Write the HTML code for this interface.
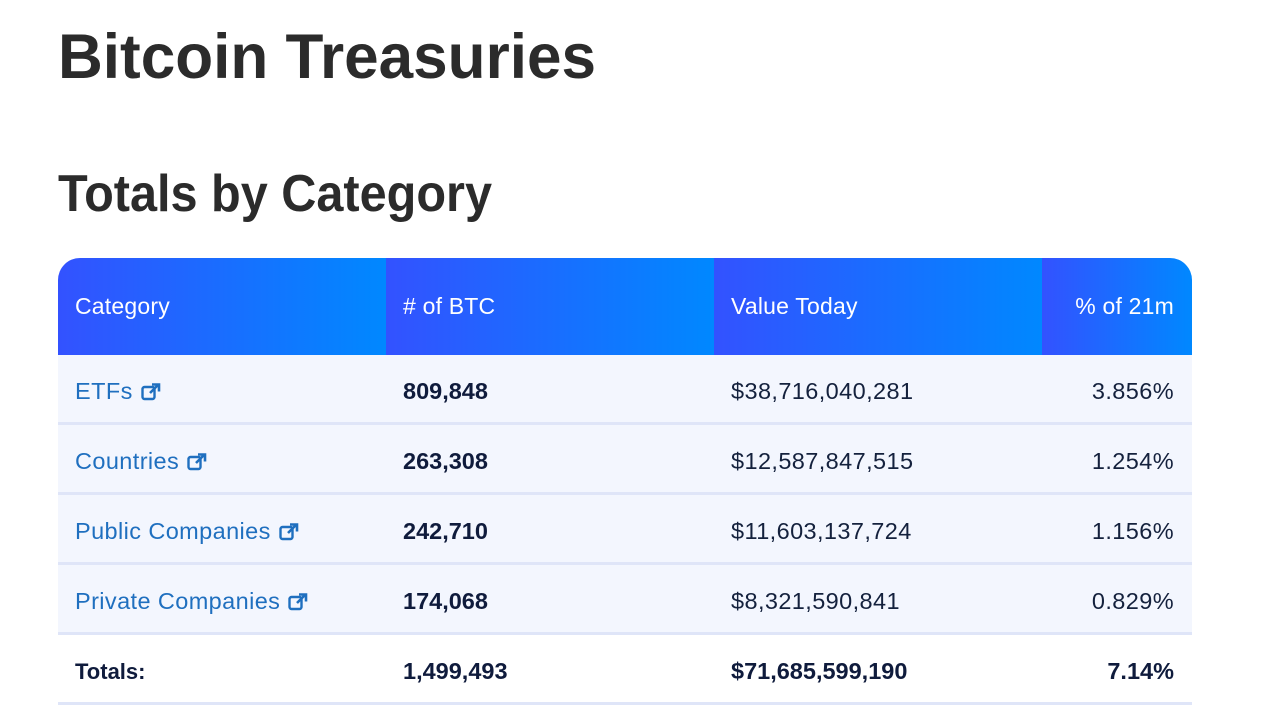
<!DOCTYPE html>
<html><head><meta charset="utf-8"><style>
body{margin:0;width:1280px;height:720px;background:#fff;overflow:hidden;font-family:"Liberation Sans",sans-serif;position:relative}
svg.t{position:absolute;left:0;top:0}
.tbl{position:absolute;left:58px;top:258px;width:1134px}
.hdr{height:97px;border-radius:22px 22px 0 0;overflow:hidden;display:flex}
.hc{height:97px;color:#fff;font-size:23px;letter-spacing:0.2px;display:flex;align-items:center;box-sizing:border-box;background:linear-gradient(90deg,#3352ff,#0088ff)}
.row{height:67px;background:#f3f6fe;border-bottom:3px solid #dfe5f8;display:flex;align-items:center;font-size:23.5px;letter-spacing:0.4px;color:#14213d;box-sizing:content-box;padding-top:0}
.row>div{padding-top:6px}
.c1{width:328px;padding-left:17px;box-sizing:border-box}
.c2{width:328px;padding-left:17px;box-sizing:border-box}
.c3{width:328px;padding-left:17px;box-sizing:border-box}
.c4{width:150px;padding-right:18px;box-sizing:border-box;text-align:right;justify-content:flex-end}
.lnk{color:#1f6fbf}
b{font-weight:bold;color:#0f1b3c;letter-spacing:0}
.ext{display:inline-block;vertical-align:-2px;margin-left:8px}
</style></head><body>
<svg class="t" width="1280" height="240">
<text x="58" y="78" font-size="63" font-weight="bold" fill="#2b2b2b" textLength="538" lengthAdjust="spacingAndGlyphs">Bitcoin Treasuries</text>
<text x="58" y="211" font-size="52" font-weight="bold" fill="#2b2b2b" textLength="434" lengthAdjust="spacingAndGlyphs">Totals by Category</text>
</svg>
<div class="tbl">
<div class="hdr">
<div class="hc c1">Category</div>
<div class="hc c2"># of BTC</div>
<div class="hc c3">Value Today</div>
<div class="hc c4">% of 21m</div>
</div>
<div class="row"><div class="c1"><span class="lnk">ETFs<svg class="ext" width="20" height="18" viewBox="0 0 20 18"><rect x="1.5" y="4" width="12" height="12" rx="2" fill="none" stroke="#1f6fbf" stroke-width="2.4"/><path d="M9 10 L17 2 M11 1.5 H18 V8.5" fill="none" stroke="#1f6fbf" stroke-width="2.6"/></svg></span></div><div class="c2"><b>809,848</b></div><div class="c3">$38,716,040,281</div><div class="c4">3.856%</div></div>
<div class="row"><div class="c1"><span class="lnk">Countries<svg class="ext" width="20" height="18" viewBox="0 0 20 18"><rect x="1.5" y="4" width="12" height="12" rx="2" fill="none" stroke="#1f6fbf" stroke-width="2.4"/><path d="M9 10 L17 2 M11 1.5 H18 V8.5" fill="none" stroke="#1f6fbf" stroke-width="2.6"/></svg></span></div><div class="c2"><b>263,308</b></div><div class="c3">$12,587,847,515</div><div class="c4">1.254%</div></div>
<div class="row"><div class="c1"><span class="lnk">Public Companies<svg class="ext" width="20" height="18" viewBox="0 0 20 18"><rect x="1.5" y="4" width="12" height="12" rx="2" fill="none" stroke="#1f6fbf" stroke-width="2.4"/><path d="M9 10 L17 2 M11 1.5 H18 V8.5" fill="none" stroke="#1f6fbf" stroke-width="2.6"/></svg></span></div><div class="c2"><b>242,710</b></div><div class="c3">$11,603,137,724</div><div class="c4">1.156%</div></div>
<div class="row"><div class="c1"><span class="lnk">Private Companies<svg class="ext" width="20" height="18" viewBox="0 0 20 18"><rect x="1.5" y="4" width="12" height="12" rx="2" fill="none" stroke="#1f6fbf" stroke-width="2.4"/><path d="M9 10 L17 2 M11 1.5 H18 V8.5" fill="none" stroke="#1f6fbf" stroke-width="2.6"/></svg></span></div><div class="c2"><b>174,068</b></div><div class="c3">$8,321,590,841</div><div class="c4">0.829%</div></div>
<div class="row" style="background:#fff"><div class="c1"><b style="font-size:22px">Totals:</b></div><div class="c2"><b>1,499,493</b></div><div class="c3"><b>$71,685,599,190</b></div><div class="c4"><b>7.14%</b></div></div>
</div>
</body></html>
